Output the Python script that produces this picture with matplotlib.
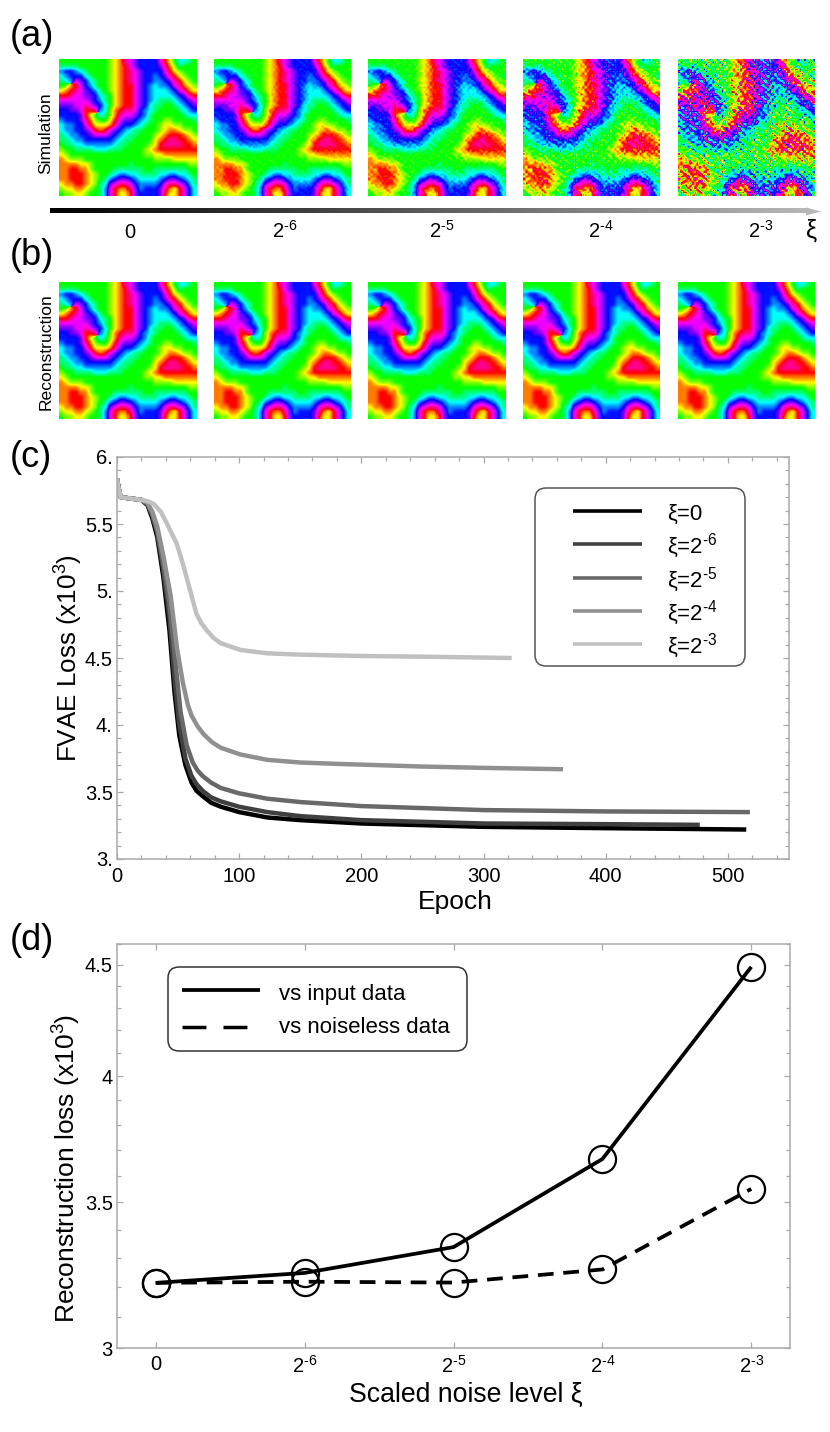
import numpy as np
import matplotlib
matplotlib.use("Agg")
import matplotlib.pyplot as plt
from matplotlib.patches import FancyBboxPatch, Polygon
from matplotlib.ticker import FixedLocator, FixedFormatter, NullFormatter

FIG_W = 830
FIG_H = 1432

plt.rcParams["font.family"] = ["Liberation Sans", "DejaVu Sans"]
plt.rcParams["mathtext.default"] = "regular"

# phase field, one hue step per character
# 0 red, 2 yellow, 4 green, 6 cyan, 8 blue, a magenta
PHASE_ROWS = [
    "4444444444321ba98888a0246654",
    "55554444443210a988889b135444",
    "78876544443210ba98888a023444",
    "67888654443210ba988789b02344",
    "567a9865443210ba9887789b0234",
    "4310a8754432100a9876778ab123",
    "210ba9875432100a98766678ab12",
    "00baa9986542100a9876666789b0",
    "aaaaaa987542100a98765556789a",
    "999aaba98642100a986554456789",
    "8899a00b76310bba876544445678",
    "888890246531baa9875444444566",
    "78889b134420a998765443344445",
    "67788a02221b9887654432233444",
    "677889a010a98765544432112334",
    "5677889aaa987655444321000123",
    "5567788888876554444210bb0012",
    "455667777776554444320bbbb001",
    "3445555666555444432100000000",
    "2344444444444444433221111111",
    "1233344444444444444333322222",
    "1111223444444454444444444433",
    "1100113444455555544555555544",
    "1100012344567766555566776654",
    "1100012345789987666678998765",
    "21100123569abba877778abba975",
    "3221123457a011b978889b120a86",
    "4332234457a02209888890220a86",
]

# hand-typed grain for the noisy panels
GRAIN_A = [
    [2, -3, 1, 4, -2, -4, 3],
    [-1, 4, -4, 0, 3, 1, -3],
    [3, -2, 2, -3, -4, 4, 0],
    [-4, 1, 3, 2, -1, -3, 4],
    [0, 3, -3, -4, 4, 2, -2],
    [4, -4, 0, 1, -3, 3, -1],
    [-2, 2, 4, -1, 1, -4, 3],
]
GRAIN_B = [
    [1, -2, 3, -3, 2, 0, -1, 3, -3, 1, 2],
    [-3, 2, 0, 3, -1, -3, 2, -2, 1, 3, -1],
    [2, -1, -3, 1, 3, -2, 0, 3, -2, -1, 3],
    [0, 3, -2, -1, -3, 2, 3, -1, 2, -3, 1],
    [-2, 1, 3, 2, 0, -3, 1, -3, 3, 2, -1],
    [3, -3, -1, 0, 2, 3, -2, 1, -1, -2, 0],
    [-1, 2, 1, -3, 3, -1, 3, 0, -3, 2, -2],
    [2, 0, -3, 3, -2, 1, -1, 2, 3, -1, 3],
    [-3, 3, 2, -2, 1, 3, 0, -3, -1, 3, 1],
    [1, -1, 0, 2, -3, -2, 3, 1, 2, -3, -2],
    [3, -2, -1, 1, 3, 2, -3, -1, 0, 2, -3],
]
# grain strength per panel, radians per grain unit
NOISE_LEVELS = [0.0, 0.035, 0.065, 0.15, 0.36]

PANEL_LEFTS = [59, 214, 368, 523, 678]
AXIS_LABELS = ["0", "2$^{\u20106}$", "2$^{\u20105}$", "2$^{\u20104}$", "2$^{\u20103}$"]
AXIS_LABEL_X = [130, 285, 442, 601, 761]

# panel (c) training curves
EPOCH_0 = [0, 1, 3, 20, 25, 29, 33, 38, 43, 47, 51, 56, 61, 65, 70, 77, 85, 100, 123, 150, 200, 300, 400, 515]
LOSS_0 = [5.84, 5.78, 5.70, 5.68, 5.64, 5.54, 5.40, 5.10, 4.70, 4.25, 3.92, 3.70, 3.57, 3.51, 3.47, 3.42, 3.39, 3.35, 3.31, 3.29, 3.265, 3.24, 3.23, 3.22]
EPOCH_6 = [0, 1, 3, 20, 25, 29, 33, 38, 43, 47, 51, 56, 61, 65, 70, 77, 85, 100, 123, 150, 200, 300, 400, 477]
LOSS_6 = [5.84, 5.78, 5.70, 5.68, 5.65, 5.56, 5.43, 5.15, 4.80, 4.35, 4.00, 3.75, 3.62, 3.56, 3.51, 3.46, 3.43, 3.39, 3.35, 3.32, 3.29, 3.265, 3.26, 3.255]
EPOCH_5 = [0, 1, 3, 20, 25, 29, 33, 38, 43, 48, 52, 57, 62, 66, 70, 77, 85, 100, 123, 150, 200, 300, 400, 518]
LOSS_5 = [5.84, 5.78, 5.70, 5.68, 5.65, 5.57, 5.45, 5.20, 4.90, 4.45, 4.10, 3.85, 3.72, 3.66, 3.62, 3.57, 3.53, 3.49, 3.45, 3.425, 3.395, 3.365, 3.355, 3.35]
EPOCH_4 = [0, 1, 3, 20, 25, 29, 33, 38, 44, 49, 54, 58, 61, 66, 71, 78, 85, 101, 123, 150, 180, 250, 300, 365]
LOSS_4 = [5.84, 5.78, 5.70, 5.68, 5.66, 5.59, 5.48, 5.26, 4.96, 4.58, 4.31, 4.15, 4.07, 3.99, 3.93, 3.87, 3.83, 3.78, 3.74, 3.72, 3.71, 3.69, 3.68, 3.67]
EPOCH_3 = [0, 1, 3, 20, 25, 30, 36, 41, 49, 54, 60, 65, 69, 74, 79, 85, 101, 123, 150, 200, 250, 323]
LOSS_3 = [5.84, 5.78, 5.70, 5.68, 5.67, 5.65, 5.59, 5.50, 5.35, 5.20, 5.00, 4.83, 4.76, 4.70, 4.65, 4.61, 4.56, 4.535, 4.525, 4.515, 4.51, 4.50]
CURVE_COLORS = ["#000000", "#404040", "#696969", "#909090", "#c0c0c0"]
CURVE_LABELS = ["\u03be=0", "\u03be=2$^{\u20106}$", "\u03be=2$^{\u20105}$", "\u03be=2$^{\u20104}$", "\u03be=2$^{\u20103}$"]

# panel (d)
NOISE_POS = [0, 1, 2, 3, 4]
VS_INPUT = [3.214, 3.248, 3.338, 3.664, 4.49]
VS_NOISELESS = [3.214, 3.218, 3.215, 3.26, 3.55]


def axes_px(left, top, right, bottom):
    return fig.add_axes((left / FIG_W, 1 - bottom / FIG_H, (right - left) / FIG_W, (bottom - top) / FIG_H))


def upsample(grid, size):
    # bilinear, rows then columns
    grid = np.asarray(grid)
    rows, cols = grid.shape
    x_new = (np.arange(size) + 0.5) / size * cols - 0.5
    y_new = (np.arange(size) + 0.5) / size * rows - 0.5
    out = np.array([np.interp(x_new, np.arange(cols), r) for r in grid])
    out = np.array([np.interp(y_new, np.arange(rows), c) for c in out.T]).T
    return out


def smooth(field, width):
    kernel = np.ones(width) / width
    pad = width // 2
    padded = np.pad(field, pad, mode="edge")
    padded = np.apply_along_axis(lambda v: np.convolve(v, kernel, mode="same"), 0, padded)
    padded = np.apply_along_axis(lambda v: np.convolve(v, kernel, mode="same"), 1, padded)
    return padded[pad:-pad, pad:-pad]


def base_phase(size):
    steps = np.array([[int(ch, 12) for ch in row] for row in PHASE_ROWS])
    angle = steps / 12 * 2 * np.pi
    re = smooth(upsample(np.cos(angle), size), 3)
    im = smooth(upsample(np.sin(angle), size), 3)
    return np.arctan2(im, re)


def grain(size, n_cells=60):
    a = np.array(GRAIN_A)
    b = np.array(GRAIN_B)
    cells = np.zeros((n_cells, n_cells))
    for i in range(n_cells):
        for j in range(n_cells):
            cells[i, j] = a[i % 7, (j + i // 7) % 7] + b[(i + j // 11) % 11, j % 11]
    return upsample(cells, size)


fig = plt.figure(figsize=(FIG_W / 100, FIG_H / 100), dpi=100)

# overlay in pixel coordinates for labels, arrow and legend boxes
overlay = fig.add_axes((0, 0, 1, 1), zorder=5)
overlay.set_xlim(0, FIG_W)
overlay.set_ylim(FIG_H, 0)
overlay.axis("off")
overlay.patch.set_alpha(0)

phase = base_phase(137)
noise = grain(137)

for i, left in enumerate(PANEL_LEFTS):
    ax = axes_px(left, 59, left + 137, 196)
    noisy = phase + NOISE_LEVELS[i] * noise
    ax.imshow(np.mod(noisy, 2 * np.pi) / (2 * np.pi), cmap="hsv", vmin=0, vmax=1,
              interpolation="nearest", aspect="auto")
    ax.axis("off")

    ax = axes_px(left, 282, left + 137, 419)
    ax.imshow(np.mod(phase, 2 * np.pi) / (2 * np.pi), cmap="hsv", vmin=0, vmax=1,
              interpolation="nearest", aspect="auto")
    ax.axis("off")

for label, y in zip(["(a)", "(b)", "(c)", "(d)"], [46, 265, 467, 950]):
    overlay.text(10, y, label, fontsize=26, ha="left", va="baseline")

overlay.text(46, 133, "Simulation", fontsize=12.6, rotation=90, ha="center", va="center")
overlay.text(46, 352, "Reconstruction", fontsize=12.6, rotation=90, ha="center", va="center")

# gradient arrow
gradient = np.linspace(0, 0.72, 400).reshape(1, -1)
overlay.imshow(gradient, cmap="gray", vmin=0, vmax=1, extent=(50, 808, 213.5, 209), aspect="auto")
overlay.set_xlim(0, FIG_W)
overlay.set_ylim(FIG_H, 0)
overlay.add_patch(Polygon([(806, 207.5), (821, 211.5), (806, 215.5)], closed=True, color="#b8b8b8", lw=0))

for x, label in zip(AXIS_LABEL_X, AXIS_LABELS):
    overlay.text(x, 238, label, fontsize=14.5, ha="center", va="baseline")
overlay.text(812, 238, "\u03be", fontsize=18, ha="center", va="baseline")

FRAME = "#aaaaaa"

# panel (c)
ax_c = axes_px(117, 457, 789, 859)
curves = [(EPOCH_0, LOSS_0), (EPOCH_6, LOSS_6), (EPOCH_5, LOSS_5), (EPOCH_4, LOSS_4), (EPOCH_3, LOSS_3)]
for (epoch, loss), color in zip(curves, CURVE_COLORS):
    ax_c.plot(epoch, loss, color=color, lw=3.2, solid_capstyle="butt", solid_joinstyle="round")
ax_c.set_xlim(0, 550)
ax_c.set_ylim(3, 6)
ax_c.xaxis.set_major_locator(FixedLocator([0, 100, 200, 300, 400, 500]))
ax_c.xaxis.set_minor_locator(FixedLocator(np.arange(0, 550, 20)))
ax_c.yaxis.set_major_locator(FixedLocator([3, 3.5, 4, 4.5, 5, 5.5, 6]))
ax_c.yaxis.set_major_formatter(FixedFormatter(["3.", "3.5", "4.", "4.5", "5.", "5.5", "6."]))
ax_c.yaxis.set_minor_locator(FixedLocator(np.arange(3, 6.01, 0.1)))
ax_c.set_xlabel("Epoch", fontsize=19)
ax_c.set_ylabel("FVAE Loss (x10$^{3}$)", fontsize=18.7)
ax_c.xaxis.set_label_coords(0.503, -0.076)
ax_c.yaxis.set_label_coords(-0.048, 0.5)

# panel (d)
ax_d = axes_px(117, 944, 790, 1348)
ax_d.set_yscale("log")
ax_d.plot(NOISE_POS, VS_INPUT, color="black", lw=2.7, solid_capstyle="butt")
ax_d.plot(NOISE_POS, VS_NOISELESS, color="black", lw=2.7, dashes=(4.2, 2.6))
marker_style = dict(ls="none", marker="o", ms=19.5, mfc="none", mec="black", mew=1.6)
ax_d.plot(NOISE_POS, VS_INPUT, **marker_style)
ax_d.plot(NOISE_POS, VS_NOISELESS, **marker_style)
ax_d.set_xlim(-0.26, 4.26)
ax_d.set_ylim(3, 4.6)
ax_d.xaxis.set_major_locator(FixedLocator(NOISE_POS))
ax_d.xaxis.set_major_formatter(FixedFormatter(AXIS_LABELS))
ax_d.yaxis.set_major_locator(FixedLocator([3, 3.5, 4, 4.5]))
ax_d.yaxis.set_major_formatter(FixedFormatter(["3", "3.5", "4", "4.5"]))
ax_d.yaxis.set_minor_locator(FixedLocator(np.arange(3, 4.61, 0.1)))
ax_d.yaxis.set_minor_formatter(NullFormatter())
ax_d.set_xlabel("Scaled noise level \u03be", fontsize=19.2)
ax_d.set_ylabel("Reconstruction loss (x10$^{3}$)", fontsize=19)
ax_d.xaxis.set_label_coords(0.518, -0.085)
ax_d.yaxis.set_label_coords(-0.05, 0.445)

for ax in (ax_c, ax_d):
    for spine in ax.spines.values():
        spine.set_color(FRAME)
        spine.set_linewidth(1.1)
    ax.tick_params(which="both", direction="in", top=True, right=True, color=FRAME, labelsize=14.5, width=0.9)
    ax.tick_params(which="major", length=4.5, pad=3)
    ax.tick_params(which="minor", length=3)
ax_c.tick_params(axis="x", which="major", pad=6)
ax_d.tick_params(axis="x", which="major", pad=5)

# legend (c)
overlay.add_patch(FancyBboxPatch((535 + 10, 488 + 10), 210 - 20, 178 - 20, boxstyle="round,pad=10,rounding_size=11",
                                 fc="white", ec="#555555", lw=1.1))
for y, color, label in zip([511, 544, 578, 611, 644], CURVE_COLORS, CURVE_LABELS):
    overlay.plot([573, 642], [y, y], color=color, lw=2.6, solid_capstyle="butt")
    overlay.text(667, y + 9, label, fontsize=16, ha="left", va="baseline")

# legend (d)
overlay.add_patch(FancyBboxPatch((168 + 10, 967 + 10), 299 - 20, 84 - 20, boxstyle="round,pad=10,rounding_size=11",
                                 fc="white", ec="#333333", lw=1.1))
overlay.plot([182, 260], [990, 990], color="black", lw=2.7, solid_capstyle="butt")
overlay.plot([182, 247], [1027, 1027], color="black", lw=2.5, dashes=(6.9, 4.9), dash_capstyle="butt")
overlay.text(279, 1000, "vs input data", fontsize=16, ha="left", va="baseline")
overlay.text(279, 1033, "vs noiseless data", fontsize=16, ha="left", va="baseline")

fig.savefig("out.png", dpi=100)
